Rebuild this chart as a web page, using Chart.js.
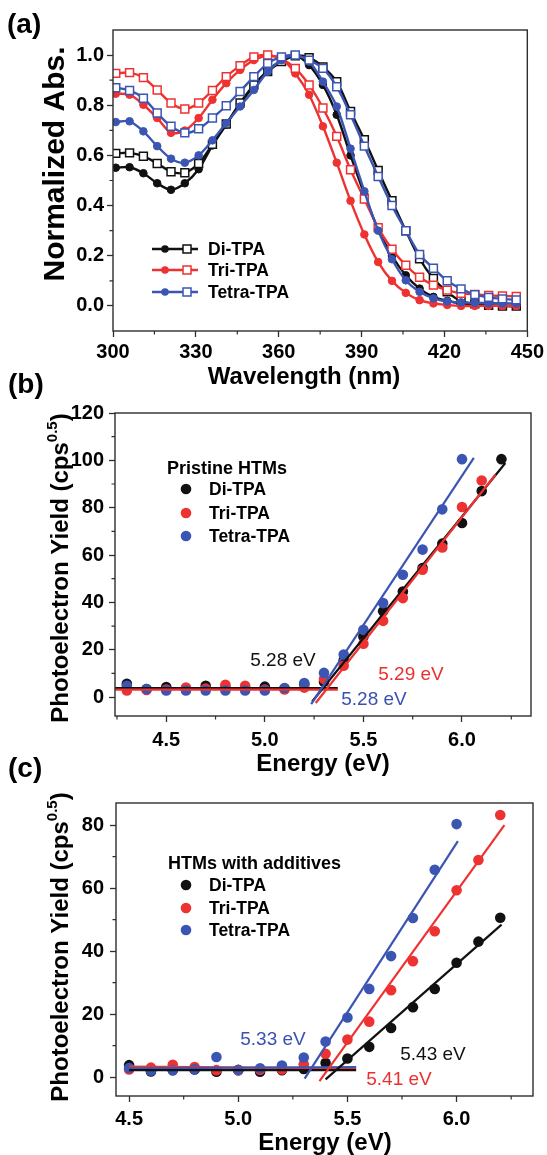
<!DOCTYPE html>
<html><head><meta charset="utf-8">
<script src="https://cdn.jsdelivr.net/npm/chart.js@4.4.1/dist/chart.umd.min.js"></script>
<style>
html,body{margin:0;padding:0;background:#fff;width:547px;height:1155px;overflow:hidden;position:relative;}
canvas{position:absolute;left:0;}
.lbl{position:absolute;font:bold 28px "Liberation Sans",Arial,sans-serif;line-height:28px;color:#000;}
</style></head><body>
<canvas id="ca" width="547" height="390" style="top:0;width:547px;height:390px"></canvas>
<canvas id="cb" width="547" height="395" style="top:390px;width:547px;height:395px"></canvas>
<canvas id="cc" width="547" height="370" style="top:785px;width:547px;height:370px"></canvas>
<div class="lbl" style="left:7px;top:10px">(a)</div>
<div class="lbl" style="left:8px;top:370px">(b)</div>
<div class="lbl" style="left:8px;top:754px">(c)</div>
<script>
// ---------- Panel (a): UV-vis absorption ----------
const wavelength = [301,306,311,316,321,326,331,336,341,346,351,356,361,366,371,376,381,386,391,396,401,406,411,416,421,426,431,436,441,446];
const diFilled   = [0.551,0.553,0.529,0.489,0.463,0.489,0.545,0.640,0.723,0.805,0.878,0.938,0.978,0.998,0.960,0.881,0.762,0.600,0.445,0.305,0.200,0.122,0.069,0.036,0.020,0.010,0.005,0.002,0.000,0.000];
const diOpen     = [0.608,0.610,0.597,0.568,0.535,0.531,0.568,0.644,0.725,0.809,0.881,0.934,0.974,0.997,0.990,0.953,0.894,0.775,0.663,0.540,0.419,0.300,0.188,0.109,0.056,0.019,0.008,0.002,0.000,0.000];
const triFilled  = [0.846,0.842,0.802,0.749,0.690,0.699,0.749,0.822,0.888,0.941,0.980,0.997,0.985,0.927,0.842,0.716,0.571,0.419,0.285,0.175,0.100,0.052,0.023,0.010,0.004,0.000,0.000,0.000,0.000,0.000];
const triOpen    = [0.927,0.930,0.910,0.861,0.809,0.785,0.809,0.859,0.914,0.958,0.993,1.000,0.985,0.947,0.881,0.789,0.676,0.543,0.426,0.312,0.226,0.162,0.114,0.083,0.063,0.050,0.046,0.042,0.040,0.038];
const tetraFilled= [0.733,0.736,0.696,0.637,0.587,0.571,0.600,0.660,0.729,0.795,0.861,0.934,0.980,1.000,0.974,0.894,0.795,0.627,0.457,0.300,0.186,0.102,0.056,0.030,0.018,0.014,0.012,0.011,0.010,0.010];
const tetraOpen  = [0.870,0.859,0.828,0.769,0.716,0.690,0.706,0.749,0.798,0.855,0.914,0.967,0.993,1.000,0.980,0.947,0.874,0.762,0.637,0.516,0.400,0.300,0.205,0.150,0.100,0.068,0.045,0.034,0.028,0.024];
const aXTicks = [300,330,360,390,420,450];
const aXMinor = [315,345,375,405,435];
const aYTicks = [0.0,0.2,0.4,0.6,0.8,1.0];
const aYMinor = [0.1,0.3,0.5,0.7,0.9];

// ---------- Panel (b): pristine HTMs ----------
const energyB = [4.3,4.4,4.5,4.6,4.7,4.8,4.9,5.0,5.1,5.2,5.3,5.4,5.5,5.6,5.7,5.8,5.9,6.0,6.1,6.2];
const diB    = [5.6,3.4,4.2,3.4,4.8,4.0,3.8,4.4,3.6,5.4,6.5,15.5,25.6,36.2,44.6,54.5,64.8,73.5,87.0,100.5];
const triB   = [2.8,3.0,3.2,4.0,3.6,5.2,4.8,3.2,3.2,4.0,7.6,13.2,22.5,32.2,41.8,53.8,63.2,80.3,91.5];
const tetraB = [4.8,3.4,2.8,2.8,2.8,2.8,2.8,2.8,3.8,5.9,10.2,18.0,28.4,39.7,51.7,62.3,79.3,100.5];
const diFitB    = {x:[5.24,6.22],  y:[-1.9,98.9]};
const triFitB   = {x:[5.258,6.17], y:[-2.5,94.0]};
const tetraFitB = {x:[5.235,6.06], y:[-3.0,101.0]};
const diFlatB    = {x:[4.24,5.37], y:[3.8,3.8]};
const triFlatB   = {x:[4.24,5.37], y:[3.1,3.1]};
const tetraFlatB = {x:[4.24,5.25], y:[3.4,3.4]};
const bXTicks = [4.5,5.0,5.5,6.0];
const bXMinor = [4.25,4.75,5.25,5.75,6.25];
const bYTicks = [0,20,40,60,80,100,120];
const bYMinor = [10,30,50,70,90,110];

// ---------- Panel (c): HTMs with additives ----------
const energyC = [4.5,4.6,4.7,4.8,4.9,5.0,5.1,5.2,5.3,5.4,5.5,5.6,5.7,5.8,5.9,6.0,6.1,6.2];
const diC    = [3.8,1.8,2.2,2.4,1.7,2.2,1.7,2.2,2.6,4.5,5.9,9.6,15.6,22.2,28.0,36.3,43.0,50.6];
const triC   = [2.4,3.0,3.9,3.2,2.2,2.2,2.3,2.4,4.1,7.4,11.9,17.6,27.6,36.8,46.3,59.3,68.9,83.2];
const tetraC = [2.9,2.0,2.2,2.5,6.4,2.3,2.8,3.7,6.2,11.3,18.9,28.0,38.4,50.5,65.8,80.3];
const diFitC    = {x:[5.40,6.206],  y:[-0.7,48.4]};
const triFitC   = {x:[5.372,6.219], y:[-1.3,80.0]};
const tetraFitC = {x:[5.304,6.006], y:[-0.5,74.9]};
const diFlatC    = {x:[4.5,5.54], y:[2.2,2.2]};
const triFlatC   = {x:[4.5,5.54], y:[3.3,2.8]};
const tetraFlatC = {x:[4.5,5.54], y:[2.8,3.2]};
const cXTicks = [4.5,5.0,5.5,6.0];
const cXMinor = [4.75,5.25,5.75,6.25];
const cYTicks = [0,20,40,60,80];
const cYMinor = [10,30,50,70];

// ---------- styling ----------
const AXIS = '#2e2e2e';
const BLACK = '#111111', RED = '#ee3232', BLUE = '#3b55b3';
const RED_T = '#e8302f', BLUE_T = '#3a50b2';
const FONT = '"Liberation Sans", Arial, Helvetica, sans-serif';

function axis(min, max, ticks, fmt, isX, size, pad) {
  return {
    type: 'linear', min: min, max: max,
    afterBuildTicks: s => { s.ticks = ticks.map(v => ({value: v})); },
    afterFit: s => { if (isX) s.height = size; else s.width = size; },
    ticks: { callback: v => fmt(v), color: '#000', padding: pad, autoSkip: false, maxRotation: 0,
             font: {family: FONT, size: 20, weight: 'bold'} },
    grid: { display: true, drawOnChartArea: false, drawTicks: true, tickLength: 6, tickWidth: 1.3, tickColor: AXIS },
    border: { display: false },
    title: { display: false }
  };
}

function yTitle(ctx, parts, bx, cy, size) {
  ctx.save();
  ctx.translate(bx, cy);
  ctx.rotate(-Math.PI / 2);
  const fonts = parts.map(p => 'bold ' + (p.sup ? Math.round(size * 0.62) : size) + 'px ' + FONT);
  const widths = parts.map((p, i) => { ctx.font = fonts[i]; return ctx.measureText(p.t).width; });
  const total = widths.reduce((s, w) => s + w, 0);
  let x = -total / 2;
  ctx.textAlign = 'left'; ctx.textBaseline = 'alphabetic'; ctx.fillStyle = '#000';
  parts.forEach((p, i) => { ctx.font = fonts[i]; ctx.fillText(p.t, x, p.sup ? -size * 0.47 : 0); x += widths[i]; });
  ctx.restore();
}

function deco(spec) {
  return {
    id: 'deco',
    afterDraw(chart) {
      const ctx = chart.ctx, a = chart.chartArea, xs = chart.scales.x, ys = chart.scales.y, T = spec.top;
      ctx.save();
      ctx.strokeStyle = AXIS; ctx.lineWidth = 1.4;
      ctx.strokeRect(a.left, a.top, a.right - a.left, a.bottom - a.top);
      ctx.lineWidth = 1.2;
      ctx.beginPath();
      spec.xMinor.forEach(v => { const p = xs.getPixelForValue(v); ctx.moveTo(p, a.bottom); ctx.lineTo(p, a.bottom + 3.5); });
      spec.yMinor.forEach(v => { const p = ys.getPixelForValue(v); ctx.moveTo(a.left, p); ctx.lineTo(a.left - 3.5, p); });
      ctx.stroke();
      // x title
      ctx.fillStyle = '#000'; ctx.textAlign = 'center'; ctx.textBaseline = 'alphabetic';
      ctx.font = 'bold 24px ' + FONT;
      ctx.fillText(spec.xTitle.t, spec.xTitle.x, spec.xTitle.y - T);
      // y title
      yTitle(ctx, spec.yTitle.parts, spec.yTitle.x, spec.yTitle.y - T, spec.yTitle.size);
      // legend
      const L = spec.legend;
      if (L.header) {
        ctx.textAlign = 'left'; ctx.fillStyle = '#000';
        ctx.font = 'bold 18px ' + FONT;
        ctx.fillText(L.header.t, L.header.x, L.header.y - T);
      }
      L.rows.forEach(r => {
        const y = r.y - T;
        if (L.lines) {
          ctx.strokeStyle = r.c; ctx.lineWidth = 2.4;
          ctx.beginPath(); ctx.moveTo(L.lines[0], y); ctx.lineTo(L.lines[1], y); ctx.stroke();
          ctx.fillStyle = r.c; ctx.beginPath(); ctx.arc(L.circ, y, 3.8, 0, Math.PI * 2); ctx.fill();
          ctx.fillStyle = '#fff'; ctx.lineWidth = 1.5;
          ctx.fillRect(L.sq - 4, y - 4, 8, 8); ctx.strokeRect(L.sq - 4, y - 4, 8, 8);
        } else {
          ctx.fillStyle = r.c; ctx.beginPath(); ctx.arc(L.dot, y, 5.3, 0, Math.PI * 2); ctx.fill();
        }
        ctx.fillStyle = '#000'; ctx.textAlign = 'left';
        ctx.font = 'bold 17.5px ' + FONT;
        ctx.fillText(r.t, L.tx, y + 6.3);
      });
      // annotations
      (spec.notes || []).forEach(n => {
        ctx.fillStyle = n.c; ctx.textAlign = 'center';
        ctx.font = '19px ' + FONT;
        ctx.fillText(n.t, n.x, n.y - T);
      });
      ctx.restore();
    }
  };
}

function lineSeries(vals, color, filled, order) {
  return {
    data: wavelength.map((w, i) => ({x: w, y: vals[i]})),
    borderColor: color, borderWidth: 2.4, tension: 0.3, order: order,
    pointStyle: filled ? 'circle' : 'rect',
    pointRadius: filled ? 3.8 : 5.6,
    pointBackgroundColor: filled ? color : '#fff',
    pointBorderColor: color, pointBorderWidth: filled ? 1 : 1.5
  };
}
function dots(xs, vals, color, order) {
  return { type: 'scatter', data: vals.map((v, i) => ({x: xs[i], y: v})), order: order,
           pointRadius: 5.3, pointBackgroundColor: color, pointBorderWidth: 0, showLine: false };
}
function seg(d, color, order) {
  return { type: 'line', data: d.x.map((x, i) => ({x: x, y: d.y[i]})), order: order,
           borderColor: color, borderWidth: 2.2, pointRadius: 0, tension: 0, showLine: true };
}
const common = { responsive: false, animation: false, events: [],
                 plugins: { legend: { display: false }, tooltip: { enabled: false } } };

// Panel (a)
new Chart(document.getElementById('ca'), {
  type: 'line',
  data: { datasets: [
    lineSeries(tetraOpen, BLUE, false, 0),
    lineSeries(tetraFilled, BLUE, true, 1),
    lineSeries(triOpen, RED, false, 2),
    lineSeries(triFilled, RED, true, 3),
    lineSeries(diOpen, BLACK, false, 4),
    lineSeries(diFilled, BLACK, true, 5)
  ]},
  options: Object.assign({}, common, {
    layout: { padding: { left: 0, right: 19, top: 30, bottom: 19 } },
    scales: {
      x: axis(300, 450, aXTicks, v => String(v), true, 40, 3),
      y: axis(-0.1, 1.1, aYTicks, v => v.toFixed(1), false, 113, 3)
    }
  }),
  plugins: [deco({
    top: 0, xMinor: aXMinor, yMinor: aYMinor,
    xTitle: { t: 'Wavelength (nm)', x: 304, y: 384 },
    yTitle: { parts: [{t: 'Normalized Abs.'}], x: 64, y: 164, size: 30 },
    legend: { lines: [152, 198], circ: 165, sq: 187, tx: 208,
      rows: [{t: 'Di-TPA', c: BLACK, y: 249}, {t: 'Tri-TPA', c: RED, y: 270}, {t: 'Tetra-TPA', c: BLUE, y: 292}] }
  })]
});

// Panel (b)
new Chart(document.getElementById('cb'), {
  type: 'scatter',
  data: { datasets: [
    seg(tetraFitB, BLUE, 0), seg(triFitB, RED, 0), seg(diFitB, BLACK, 0),
    seg(diFlatB, BLACK, 1), seg(tetraFlatB, BLUE, 1), seg(triFlatB, RED, 0),
    dots(energyB, tetraB, BLUE, 2), dots(energyB, triB, RED, 3), dots(energyB, diB, BLACK, 4)
  ]},
  options: Object.assign({}, common, {
    layout: { padding: { left: 0, right: 16, top: 23, bottom: 29 } },
    scales: {
      x: axis(4.24, 6.35, bXTicks, v => v.toFixed(1), true, 40, 6),
      y: axis(-8, 120, bYTicks, v => String(v), false, 115, 5)
    }
  }),
  plugins: [deco({
    top: 390, xMinor: bXMinor, yMinor: bYMinor,
    xTitle: { t: 'Energy (eV)', x: 323, y: 771 },
    yTitle: { parts: [{t: 'Photoelectron Yield (cps'}, {t: '0.5', sup: true}, {t: ')'}], x: 68, y: 568, size: 24 },
    legend: { header: { t: 'Pristine HTMs', x: 167, y: 474 }, dot: 186, tx: 209,
      rows: [{t: 'Di-TPA', c: BLACK, y: 489}, {t: 'Tri-TPA', c: RED, y: 513}, {t: 'Tetra-TPA', c: BLUE, y: 536}] },
    notes: [ {t: '5.28 eV', c: '#111', x: 283, y: 666},
             {t: '5.29 eV', c: RED_T, x: 411, y: 680},
             {t: '5.28 eV', c: BLUE_T, x: 374, y: 705} ]
  })]
});

// Panel (c)
new Chart(document.getElementById('cc'), {
  type: 'scatter',
  data: { datasets: [
    seg(tetraFitC, BLUE, 0), seg(triFitC, RED, 0), seg(diFitC, BLACK, 0),
    seg(diFlatC, BLACK, 1), seg(tetraFlatC, BLUE, 1), seg(triFlatC, RED, 1),
    dots(energyC, tetraC, BLUE, 2), dots(energyC, triC, RED, 3), dots(energyC, diC, BLACK, 4)
  ]},
  options: Object.assign({}, common, {
    layout: { padding: { left: 0, right: 14, top: 7, bottom: 19 } },
    scales: {
      x: axis(4.44, 6.35, cXTicks, v => v.toFixed(1), true, 40, 5),
      y: axis(-6, 87, cYTicks, v => String(v), false, 116, 6)
    }
  }),
  plugins: [deco({
    top: 785, xMinor: cXMinor, yMinor: cYMinor,
    xTitle: { t: 'Energy (eV)', x: 325, y: 1150 },
    yTitle: { parts: [{t: 'Photoelectron Yield (cps'}, {t: '0.5', sup: true}, {t: ')'}], x: 68, y: 947, size: 24 },
    legend: { header: { t: 'HTMs with additives', x: 168, y: 869 }, dot: 186, tx: 209,
      rows: [{t: 'Di-TPA', c: BLACK, y: 885}, {t: 'Tri-TPA', c: RED, y: 908}, {t: 'Tetra-TPA', c: BLUE, y: 930}] },
    notes: [ {t: '5.33 eV', c: BLUE_T, x: 273, y: 1045},
             {t: '5.43 eV', c: '#111', x: 433, y: 1060},
             {t: '5.41 eV', c: RED_T, x: 399, y: 1085} ]
  })]
});
</script>
</body></html>
